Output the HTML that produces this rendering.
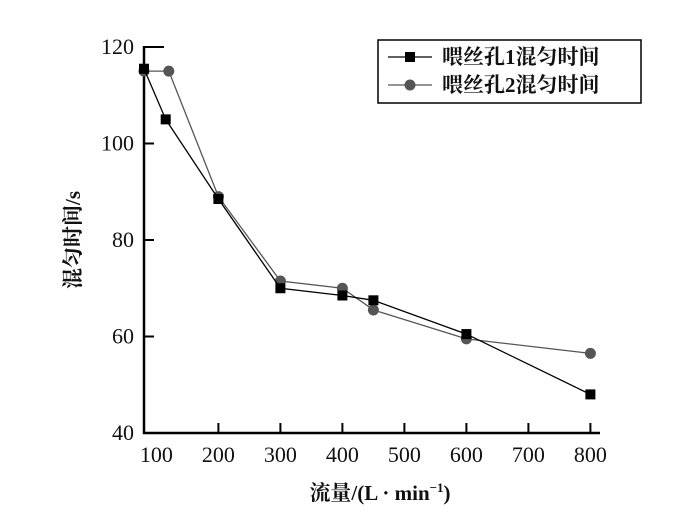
<!DOCTYPE html>
<html><head><meta charset="utf-8"><style>
body{margin:0;background:#fff;}
svg text{font-family:"Liberation Serif","Noto Serif CJK SC",serif;fill:#111;}
</style></head><body>
<svg id="chart" width="700" height="519" viewBox="0 0 700 519" xmlns="http://www.w3.org/2000/svg"></svg>
<script>
const xs1 = [80, 115, 200, 300, 400, 450, 600, 800];
const ys1 = [115.5, 105, 88.5, 70, 68.5, 67.5, 60.5, 48];
const xs2 = [80, 120, 200, 300, 400, 450, 600, 800];
const ys2 = [115, 115, 89, 71.5, 70, 65.5, 59.5, 56.5];
const xTicks = [100, 200, 300, 400, 500, 600, 700, 800];
const yTicks = [40, 60, 80, 100, 120];
const seriesNames = ["喂丝孔1混匀时间", "喂丝孔2混匀时间"];

const NS = "http://www.w3.org/2000/svg";
const svg = document.getElementById("chart");
function X(v){return 144 + (v - 80) * 0.62;}
function Y(v){return 433 - (v - 40) * 4.825;}
function mk(tag, attrs, parent){const e=document.createElementNS(NS,tag);for(const k in attrs)e.setAttribute(k,attrs[k]);(parent||svg).appendChild(e);return e;}

const axes = mk("g",{});


mk("line",{x1:144,y1:46,x2:144,y2:434,stroke:"#000","stroke-width":2.5},axes);
mk("line",{x1:143,y1:433,x2:600,y2:433,stroke:"#000","stroke-width":2.5},axes);
yTicks.forEach(t=>{
  mk("line",{x1:144,y1:Y(t),x2:t===120?164:154,y2:Y(t),stroke:"#000","stroke-width":2},axes);
  const tx=mk("text",{x:134,y:Y(t)+7,"font-size":22,"text-anchor":"end"},axes);
  tx.textContent=t;
  
  
});
xTicks.forEach(t=>{
  if(t>100) mk("line",{x1:X(t),y1:433,x2:X(t),y2:423,stroke:"#000","stroke-width":2},axes);
  const tx=mk("text",{x:X(t),y:462,"font-size":22,"text-anchor":"middle"},axes);
  tx.textContent=t;
  
  
});
const xt=mk("text",{x:380,y:500,"font-size":21,"font-weight":"bold","text-anchor":"middle"});
xt.innerHTML='流量/(L · min<tspan font-size="13" dy="-8">−1</tspan><tspan dy="8">)</tspan>';


const yt=mk("text",{x:0,y:0,"font-size":21,"font-weight":"bold","text-anchor":"middle",transform:"translate(80,240) rotate(-90)"});
yt.textContent="混匀时间/s";



function series(xs,ys,color,shape,name){
  const g=mk("g",{});
  
  
  mk("polyline",{points:xs.map((x,i)=>X(x)+","+Y(ys[i])).join(" "),fill:"none",stroke:color,"stroke-width":1.3},g);
  xs.forEach((x,i)=>{
    let m;
    if(shape==="sq") m=mk("rect",{x:X(x)-5,y:Y(ys[i])-5,width:10,height:10,fill:color},g);
    else m=mk("circle",{cx:X(x),cy:Y(ys[i]),r:5.5,fill:color},g);
    
    
  });
}
series(xs2,ys2,"#555","ci","series-hole-2");
series(xs1,ys1,"#000","sq","series-hole-1");

const lg=mk("g",{});


mk("rect",{x:378,y:40,width:263,height:63,fill:"#fff",stroke:"#000","stroke-width":1.5},lg);
[["#000","sq"],["#555","ci"]].forEach((s,i)=>{
  const y=57+i*28;
  const e=mk("g",{},lg);
  
  
  mk("line",{x1:388,y1:y,x2:432,y2:y,stroke:s[0],"stroke-width":1.3},e);
  if(s[1]==="sq") mk("rect",{x:405,y:y-5,width:10,height:10,fill:s[0]},e);
  else mk("circle",{cx:410,cy:y,r:5.5,fill:s[0]},e);
  const t=mk("text",{x:442,y:y+7,"font-size":21,"font-weight":"bold"},e);
  t.textContent=seriesNames[i];
});
</script>
</body></html>
